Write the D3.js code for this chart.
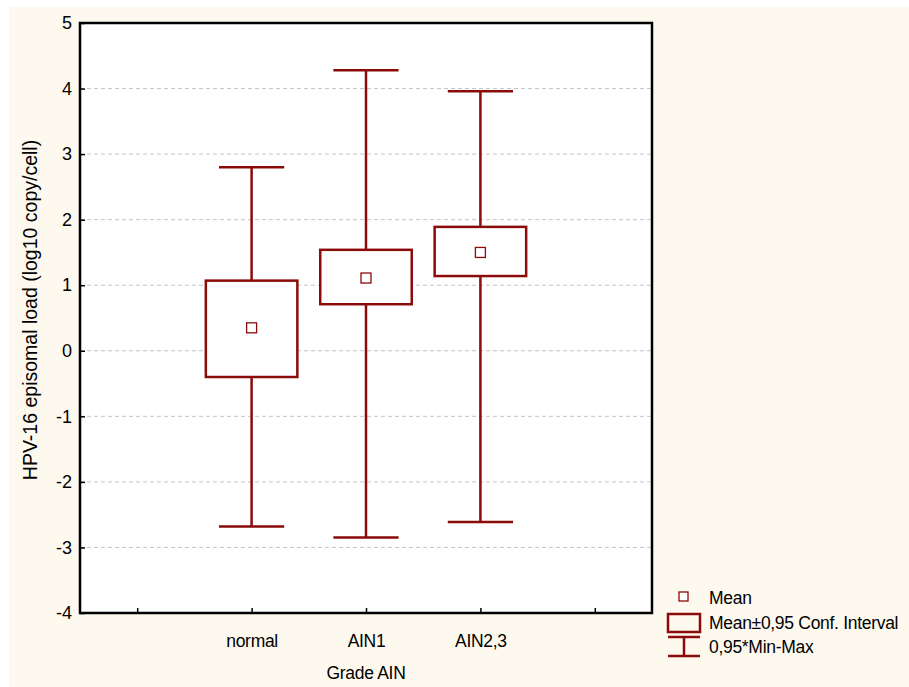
<!DOCTYPE html>
<html>
<head>
<meta charset="utf-8">
<script src="https://cdn.jsdelivr.net/npm/d3@7"></script>
<style>
  html, body { margin: 0; padding: 0; background: #ffffff; }
  svg { display: block; font-family: "Liberation Sans", Arial, sans-serif; }
</style>
</head>
<body>
<svg id="chart" width="909" height="687"></svg>
<script>
// ---- data ----
const categories = ["normal", "AIN1", "AIN2,3"];
const means      = [0.35, 1.11, 1.50];
const ciLow      = [-0.40, 0.71, 1.14];
const ciHigh     = [1.07, 1.54, 1.89];
const minVals    = [-2.68, -2.85, -2.61];
const maxVals    = [2.80, 4.28, 3.96];
const yTicks     = [-4, -3, -2, -1, 0, 1, 2, 3, 4, 5];
const yTitle     = "HPV-16 episomal load (log10 copy/cell)";
const xTitle     = "Grade AIN";
const legendLabels = ["Mean", "Mean\u00B10,95 Conf. Interval", "0,95*Min-Max"];

const color = "#8b0a0a";
const FONT = "Liberation Sans, Arial, sans-serif";
const svg = d3.select("#chart");

// background panel
svg.append("rect").attr("x", 9).attr("y", 7).attr("width", 900).attr("height", 680).attr("fill", "#fef9ef");

const plot = { left: 80, top: 23, right: 652, bottom: 613 };

const slots = ["__l", ...categories, "__r"];
const x = d3.scalePoint().domain(slots).range([plot.left, plot.right]).padding(0.5);
const y = d3.scaleLinear().domain([-4, 5]).range([plot.bottom, plot.top]);
const step = x.step();

// plot area
svg.append("rect").attr("x", plot.left).attr("y", plot.top)
  .attr("width", plot.right - plot.left).attr("height", plot.bottom - plot.top)
  .attr("fill", "#ffffff");

// gridlines
svg.append("g").selectAll("line").data(yTicks.filter(t => t > -4 && t < 5)).join("line")
  .attr("x1", plot.left).attr("x2", plot.right)
  .attr("y1", d => y(d)).attr("y2", d => y(d))
  .attr("stroke", "#c4c4c4").attr("stroke-width", 1).attr("stroke-dasharray", "4,3");

// axes
const yAxis = d3.axisLeft(y).tickValues(yTicks).tickSize(-5).tickPadding(8).tickFormat(d => String(d));
const gy = svg.append("g").attr("transform", `translate(${plot.left},0)`).call(yAxis);
gy.select(".domain").remove();
gy.selectAll(".tick line").attr("stroke", "#000").attr("stroke-width", 1.5);
gy.selectAll(".tick text").attr("font-size", 18).attr("fill", "#000").attr("font-family", FONT);

const xAxis = d3.axisBottom(x).tickSize(-5).tickPadding(20)
  .tickFormat(d => d.startsWith("__") ? "" : d);
const gx = svg.append("g").attr("transform", `translate(0,${plot.bottom})`).call(xAxis);
gx.select(".domain").remove();
gx.selectAll(".tick line").attr("stroke", "#000").attr("stroke-width", 1.5);
gx.selectAll(".tick text").attr("font-size", 17.5).attr("fill", "#000")
  .attr("letter-spacing", "-0.3px").attr("font-family", FONT)
  .attr("y", 34).attr("dy", 0);

// frame
svg.append("rect").attr("x", plot.left).attr("y", plot.top)
  .attr("width", plot.right - plot.left).attr("height", plot.bottom - plot.top)
  .attr("fill", "none").attr("stroke", "#000").attr("stroke-width", 2.5);

// boxes
const boxW = step * 0.80;
const capW = step * 0.57;
const g = svg.append("g");
categories.forEach((c, i) => {
  const cx = x(c);
  g.append("line").attr("x1", cx).attr("x2", cx).attr("y1", y(maxVals[i])).attr("y2", y(ciHigh[i]))
    .attr("stroke", color).attr("stroke-width", 2.5);
  g.append("line").attr("x1", cx).attr("x2", cx).attr("y1", y(ciLow[i])).attr("y2", y(minVals[i]))
    .attr("stroke", color).attr("stroke-width", 2.5);
  g.append("line").attr("x1", cx - capW / 2).attr("x2", cx + capW / 2).attr("y1", y(maxVals[i])).attr("y2", y(maxVals[i]))
    .attr("stroke", color).attr("stroke-width", 2.5);
  g.append("line").attr("x1", cx - capW / 2).attr("x2", cx + capW / 2).attr("y1", y(minVals[i])).attr("y2", y(minVals[i]))
    .attr("stroke", color).attr("stroke-width", 2.5);
  g.append("rect").attr("x", cx - boxW / 2).attr("y", y(ciHigh[i]))
    .attr("width", boxW).attr("height", y(ciLow[i]) - y(ciHigh[i]))
    .attr("fill", "#fff").attr("stroke", color).attr("stroke-width", 2.5);
  g.append("rect").attr("x", cx - 5).attr("y", y(means[i]) - 5).attr("width", 10).attr("height", 10)
    .attr("fill", "#fff").attr("stroke", color).attr("stroke-width", 1.3);
});

// axis titles
svg.append("text").attr("transform", `translate(37,310) rotate(-90)`)
  .attr("text-anchor", "middle").attr("font-size", 19.5).attr("font-family", FONT).text(yTitle);
svg.append("text").attr("x", x("AIN1")).attr("y", 679).attr("text-anchor", "middle")
  .attr("font-size", 17.5).attr("letter-spacing", "-0.3px").attr("font-family", FONT).text(xTitle);

// legend
const lg = svg.append("g");
lg.append("rect").attr("x", 679).attr("y", 592).attr("width", 9).attr("height", 9)
  .attr("fill", "#fff").attr("stroke", color).attr("stroke-width", 1.3);
lg.append("rect").attr("x", 668).attr("y", 614).attr("width", 32).attr("height", 18)
  .attr("fill", "none").attr("stroke", color).attr("stroke-width", 2.5);
lg.append("line").attr("x1", 668).attr("x2", 700).attr("y1", 637).attr("y2", 637).attr("stroke", color).attr("stroke-width", 2.5);
lg.append("line").attr("x1", 668).attr("x2", 700).attr("y1", 656).attr("y2", 656).attr("stroke", color).attr("stroke-width", 2.5);
lg.append("line").attr("x1", 684).attr("x2", 684).attr("y1", 637).attr("y2", 656).attr("stroke", color).attr("stroke-width", 2.5);
const legY = [604, 629, 653];
legendLabels.forEach((t, i) => {
  lg.append("text").attr("x", 709).attr("y", legY[i])
    .attr("font-size", 17.5).attr("letter-spacing", "-0.3px").attr("font-family", FONT).text(t);
});
</script>
</body>
</html>
